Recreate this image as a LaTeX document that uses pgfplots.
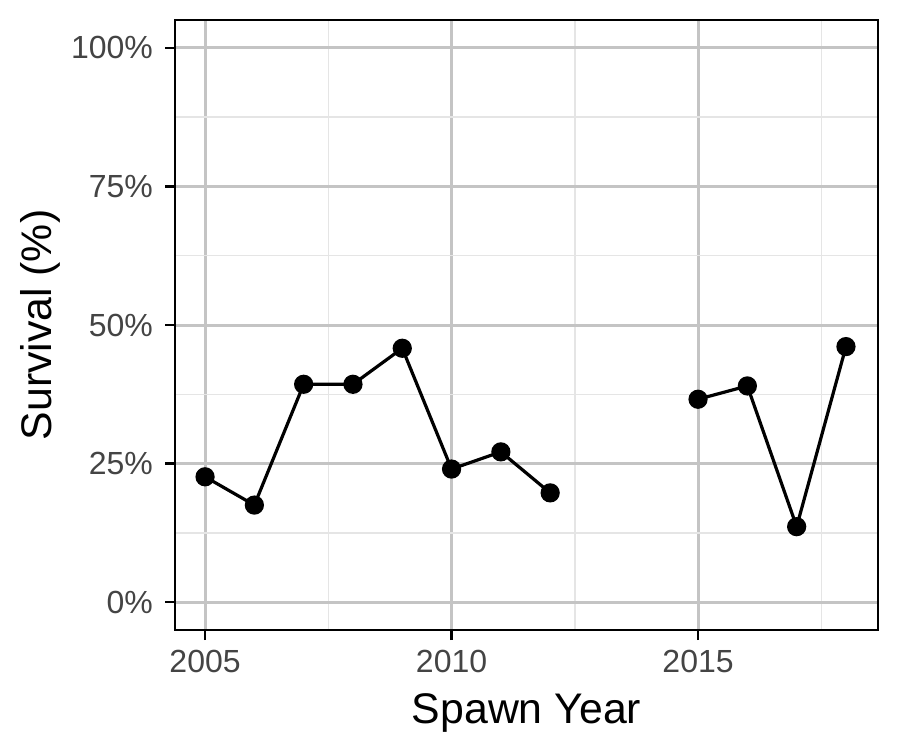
\documentclass[border=0pt]{standalone}
\usepackage{pgfplots}
\pgfplotsset{compat=1.18}
\usepackage{fontspec}
\setmainfont{Liberation Sans}
\definecolor{majgrid}{RGB}{196,196,196}
\definecolor{mingrid}{RGB}{229,229,229}
\definecolor{ticklab}{RGB}{68,68,68}
\begin{document}
\begin{tikzpicture}
\begin{axis}[
  scale only axis,
  width=351.5pt, height=305pt,
  xmin=2004.39, xmax=2018.65,
  ymin=-5.05, ymax=105.05,
  xtick={2005,2010,2015},
  xticklabels={2005,2010,2015},
  ytick={0,25,50,75,100},
  yticklabels={0\%,25\%,50\%,75\%,100\%},
  minor xtick={2007.5,2012.5,2017.5},
  minor ytick={12.5,37.5,62.5,87.5},
  grid=both,
  major grid style={majgrid, line width=1.5pt},
  minor grid style={mingrid, line width=0.75pt},
  minor tick length=0pt,
  major tick length=5pt,
  tick align=outside,
  xtick pos=bottom, ytick pos=left,
  tick style={black, line width=1.4pt},
  axis line style={black, line width=0.7pt},
  ticklabel style={font=\fontsize{16}{19}\selectfont, text=ticklab},
  xticklabel style={yshift=-1.5pt},
  yticklabel style={xshift=-2.5pt},
  xlabel={Spawn Year},
  ylabel={Survival (\%)},
  label style={font=\fontsize{21.4}{25}\selectfont},
  xlabel style={yshift=-3.5pt},
  ylabel style={yshift=-1.5pt},
  unbounded coords=jump,
  clip=false,
]
\addplot[black, line width=1.6pt, mark=*, mark size=4pt, mark options={fill=black}] coordinates {
(2005,22.6) (2006,17.5) (2007,39.3) (2008,39.3) (2009,45.8) (2010,24.0) (2011,27.1) (2012,19.7)
(2013,nan) (2014,nan)
(2015,36.6) (2016,39.0) (2017,13.6) (2018,46.1)
};
\end{axis}
\path (current axis.south west) ++(-87.5pt,-60pt) coordinate (bbA);
\path (current axis.north east) ++(11pt,10pt) coordinate (bbB);
\pgfresetboundingbox
\path[use as bounding box] (bbA) rectangle (bbB);
\end{tikzpicture}
\end{document}
